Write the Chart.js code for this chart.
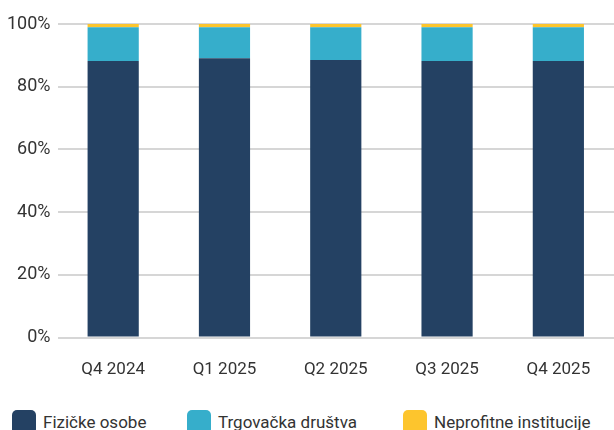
<!DOCTYPE html>
<html>
<head>
<meta charset="utf-8">
<script src="https://cdn.jsdelivr.net/npm/chart.js@4/dist/chart.umd.min.js"></script>
<style>
  html, body { margin: 0; padding: 0; background: #fff; overflow: hidden; }
  #page { width: 614px; height: 430px; position: relative; overflow: hidden; }
  #wrap { width: 614px; height: 402px; position: absolute; left: 0; top: 0; }
  #legend { position: absolute; left: 0; top: 410px; width: 614px; height: 30px;
            font-family: Roboto, sans-serif; font-size: 17px; color: #333; }
  .item { position: absolute; top: 0; height: 24px; display: flex; align-items: center; white-space: nowrap; }
  .box { width: 24px; height: 24px; border-radius: 5px; margin-right: 7px; }
</style>
</head>
<body>
<div id="page">
  <div id="wrap"><canvas id="chart"></canvas></div>
  <div id="legend"></div>
</div>
<script>
// Categories and series (share in %)
const quarters = ['Q4 2024', 'Q1 2025', 'Q2 2025', 'Q3 2025', 'Q4 2025'];
const fizickeOsobe = [88.2, 89.1, 88.5, 88.2, 88.2];
const trgovackaDrustva = [10.8, 9.9, 10.5, 10.8, 10.8];
const neprofitneInstitucije = [1.0, 1.0, 1.0, 1.0, 1.0];
const yTicks = [0, 20, 40, 60, 80, 100];

const colors = ['#244163', '#36aecb', '#fdc52d'];
const gridColor = '#d6d6d6';
const textColor = '#333333';
// legend item left edges
const legendLefts = [12, 187, 403];

const ctx = document.getElementById('chart').getContext('2d');

window.myChart = new Chart(ctx, {
    type: 'bar',
    data: {
        labels: quarters,
        datasets: [
            { label: 'Fizičke osobe', data: fizickeOsobe, backgroundColor: colors[0] },
            { label: 'Trgovačka društva', data: trgovackaDrustva, backgroundColor: colors[1] },
            { label: 'Neprofitne institucije', data: neprofitneInstitucije, backgroundColor: colors[2] }
        ]
    },
    options: {
        responsive: true,
        maintainAspectRatio: false,
        animation: false,
        datasets: {
            bar: { categoryPercentage: 1, barPercentage: 0.46 }
        },
        layout: { padding: { top: 24, right: 0, left: 0, bottom: 0 } },
        plugins: {
            tooltip: { enabled: false },
            legend: { display: false }
        },
        scales: {
            x: {
                stacked: true,
                grid: { display: false, drawTicks: false },
                border: { display: false },
                ticks: {
                    color: textColor,
                    font: { family: 'Roboto', size: 17 },
                    padding: 22
                }
            },
            y: {
                stacked: true,
                min: 0,
                max: 100,
                afterBuildTicks: axis => { axis.ticks = yTicks.map(v => ({ value: v })); },
                grid: { color: gridColor, lineWidth: 2, drawTicks: false },
                border: { display: false },
                ticks: {
                    color: textColor,
                    font: { family: 'Roboto', size: 18 },
                    padding: 7,
                    callback: v => v + '%'
                }
            }
        }
    }
});

// HTML legend built from the chart's datasets
const legendEl = document.getElementById('legend');
window.myChart.data.datasets.forEach((ds, i) => {
    const item = document.createElement('div');
    item.className = 'item';
    item.style.left = legendLefts[i] + 'px';
    const box = document.createElement('span');
    box.className = 'box';
    box.style.background = ds.backgroundColor;
    const txt = document.createElement('span');
    txt.textContent = ds.label;
    item.appendChild(box);
    item.appendChild(txt);
    legendEl.appendChild(item);
});
</script>
</body>
</html>
